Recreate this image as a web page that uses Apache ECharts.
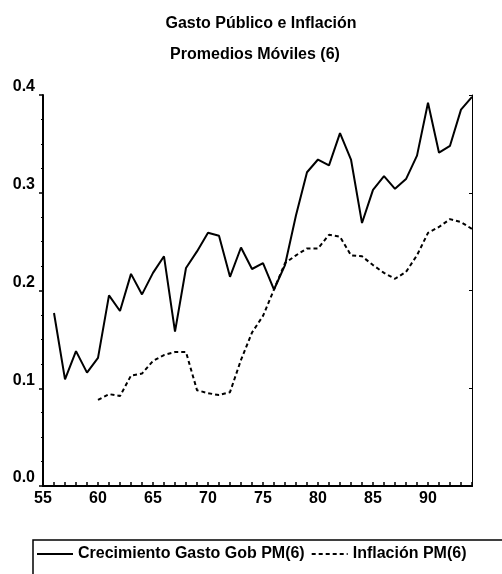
<!DOCTYPE html>
<html>
<head>
<meta charset="utf-8">
<title>Gasto Público e Inflación</title>
<script src="https://cdn.jsdelivr.net/npm/echarts@6/dist/echarts.min.js"></script>
<style>
  html, body { margin: 0; padding: 0; background: #fff; }
  #chart { width: 502px; height: 574px; }
</style>
</head>
<body>
<div id="chart"></div>
<script>
// years (two digit) and moving averages
const gastoYears = [56, 57, 58, 59, 60, 61, 62, 63, 64, 65, 66, 67, 68, 69, 70, 71, 72, 73, 74, 75,
  76, 77, 78, 79, 80, 81, 82, 83, 84, 85, 86, 87, 88, 89, 90, 91, 92, 93, 94]
const gastoValues = [0.177, 0.109, 0.138, 0.116, 0.131, 0.195, 0.179, 0.217, 0.196, 0.218,
  0.235, 0.158, 0.223, 0.240, 0.259, 0.256, 0.214, 0.244, 0.222, 0.228,
  0.201, 0.226, 0.277, 0.321, 0.334, 0.328, 0.361, 0.334, 0.269, 0.303,
  0.317, 0.304, 0.314, 0.338, 0.392, 0.341, 0.348, 0.385, 0.398]

const inflYears = [60, 61, 62, 63, 64, 65, 66, 67, 68, 69, 70, 71, 72, 73, 74, 75,
  76, 77, 78, 79, 80, 81, 82, 83, 84, 85, 86, 87, 88, 89, 90, 91, 92, 93, 94]
const inflValues = [0.088, 0.094, 0.092, 0.113, 0.115, 0.128, 0.134, 0.137, 0.137, 0.098,
  0.095, 0.093, 0.096, 0.129, 0.157, 0.174, 0.201, 0.228, 0.236, 0.243,
  0.243, 0.257, 0.255, 0.236, 0.235, 0.226, 0.218, 0.212, 0.219, 0.236,
  0.259, 0.265, 0.273, 0.270, 0.263]

const xLabels = [55, 60, 65, 70, 75, 80, 85, 90]
const seriesNames = ['Crecimiento Gasto Gob PM(6)', 'Inflación PM(6)']

const font = 'Liberation Sans, Arial, sans-serif'
const titleStyle = {
  fontFamily: font,
  fontSize: 16,
  fontWeight: 'bold',
  color: '#000'
}

const chart = echarts.init(document.getElementById('chart'), null, { renderer: 'canvas' })

chart.setOption({
  backgroundColor: '#fff',
  animation: false,
  title: [
    { text: 'Gasto Público e Inflación', left: 256, top: 11, textAlign: 'center', textStyle: titleStyle },
    { text: 'Promedios Móviles (6)', left: 250, top: 42, textAlign: 'center', textStyle: titleStyle }
  ],
  grid: {
    left: 43,
    right: 30,
    top: 95,
    bottom: 88
  },
  legend: {
    left: 31,
    top: 541,
    itemWidth: 36,
    itemHeight: 12,
    itemGap: 6,
    itemStyle: { color: 'rgba(0,0,0,0)', borderWidth: 0 },
    textStyle: {
      fontFamily: font,
      fontSize: 16,
      fontWeight: 'bold',
      color: '#000'
    },
    data: seriesNames
  },
  graphic: [
    {
      type: 'rect',
      shape: { x: 33, y: 540, width: 480, height: 60 },
      style: { fill: 'none', stroke: '#000', lineWidth: 1.5 },
      silent: true
    }
  ],
  xAxis: [
    {
      type: 'value',
      min: 55,
      max: 94,
      interval: 1,
      axisLine: { lineStyle: { color: '#000', width: 2 } },
      axisTick: { inside: true, length: 4, lineStyle: { color: '#000', width: 1.5 } },
      splitLine: { show: false },
      axisLabel: {
        margin: 5,
        color: '#000',
        fontFamily: font,
        fontSize: 16,
        fontWeight: 'bold',
        formatter: v => (xLabels.indexOf(v) >= 0 ? String(v) : '')
      }
    },
    {
      type: 'value',
      position: 'top',
      min: 55,
      max: 94,
      axisLine: { show: true, lineStyle: { color: '#000', width: 2 } },
      axisTick: { show: false },
      axisLabel: { show: false },
      splitLine: { show: false }
    }
  ],
  yAxis: [
    {
      type: 'value',
      min: 0,
      max: 0.4,
      interval: 0.1,
      axisLine: { show: true, lineStyle: { color: '#000', width: 2 } },
      axisTick: { show: true, length: 4, lineStyle: { color: '#000', width: 1.5 } },
      minorTick: { show: true, splitNumber: 4, length: 2, lineStyle: { color: '#000' } },
      splitLine: { show: false },
      axisLabel: {
        margin: 8,
        color: '#000',
        fontFamily: font,
        fontSize: 16,
        fontWeight: 'bold',
        verticalAlign: 'bottom',
        formatter: v => v.toFixed(1)
      }
    },
    {
      type: 'value',
      position: 'right',
      min: 0,
      max: 0.4,
      interval: 0.1,
      axisLine: { show: true, lineStyle: { color: '#000', width: 1 } },
      axisTick: { show: true, inside: true, length: 3, lineStyle: { color: '#000' } },
      axisLabel: { show: false },
      splitLine: { show: false }
    }
  ],
  series: [
    {
      name: seriesNames[0],
      type: 'line',
      symbol: 'none',
      xAxisIndex: 0,
      yAxisIndex: 0,
      lineStyle: { color: '#000', width: 2 },
      itemStyle: { color: '#000' },
      data: gastoYears.map((y, i) => [y, gastoValues[i]])
    },
    {
      name: seriesNames[1],
      type: 'line',
      symbol: 'none',
      xAxisIndex: 0,
      yAxisIndex: 0,
      lineStyle: { color: '#000', width: 2, type: [4, 3] },
      itemStyle: { color: '#000' },
      data: inflYears.map((y, i) => [y, inflValues[i]])
    }
  ]
})
</script>
</body>
</html>
